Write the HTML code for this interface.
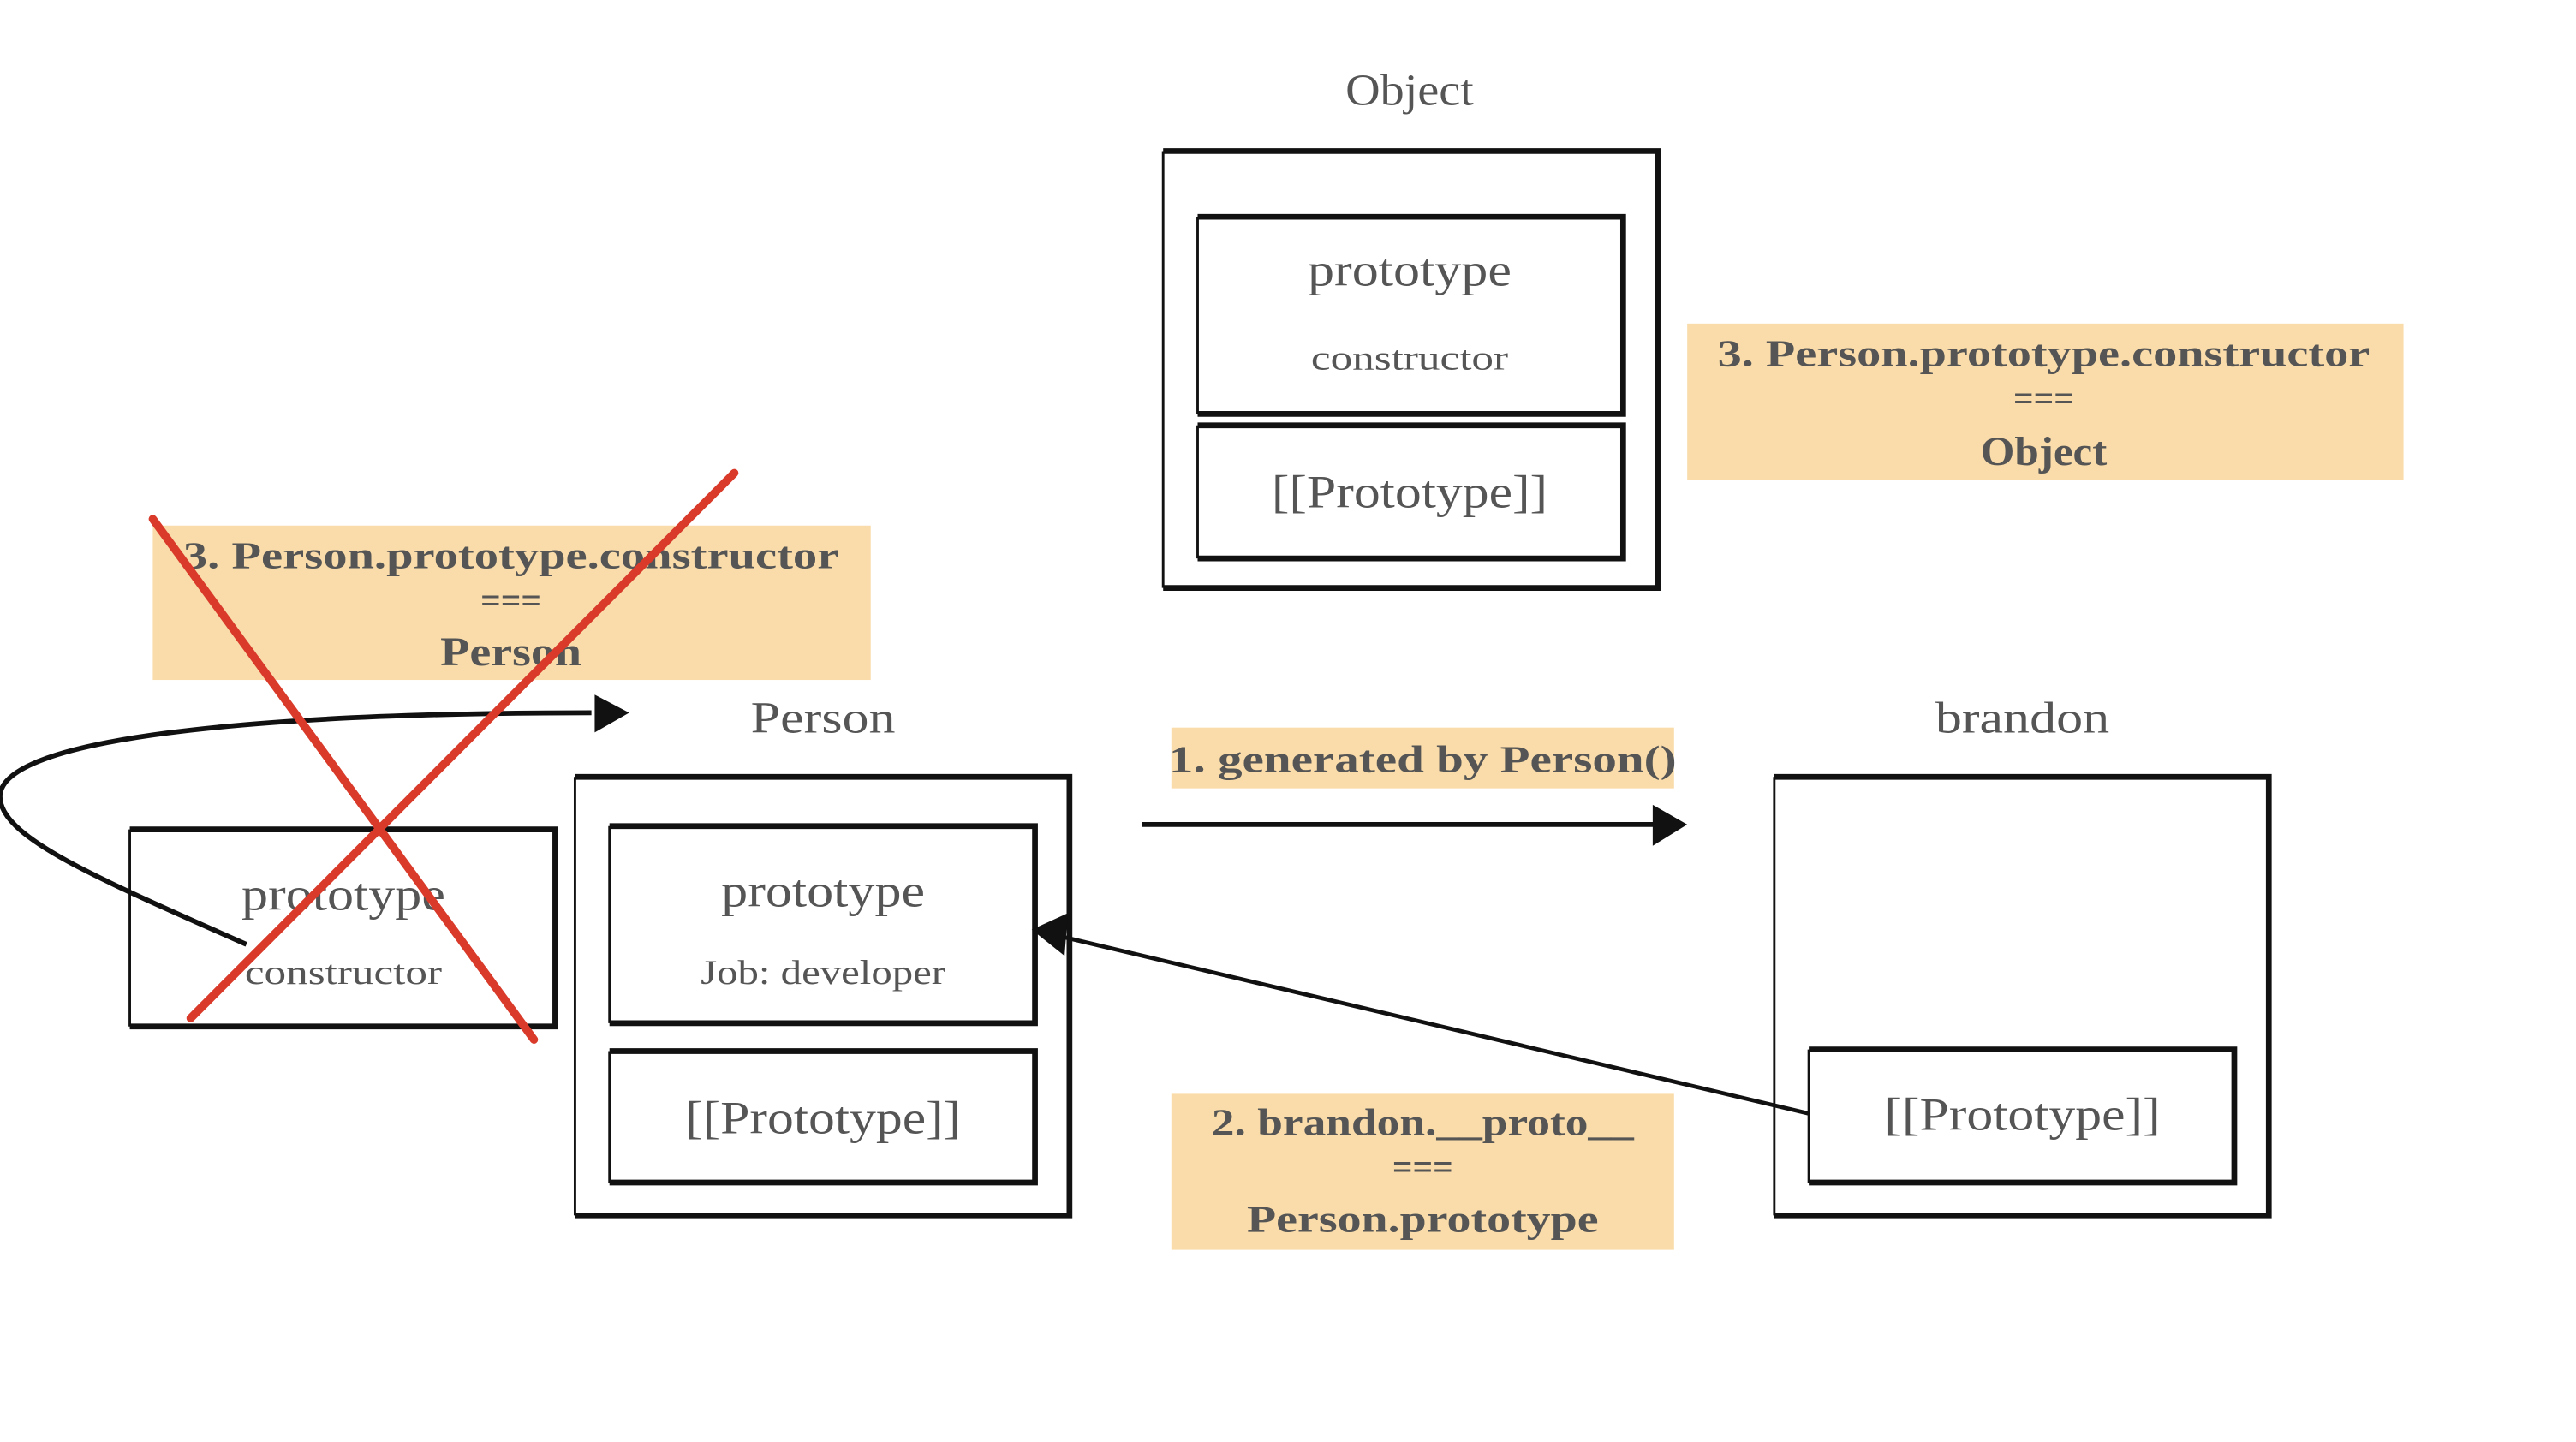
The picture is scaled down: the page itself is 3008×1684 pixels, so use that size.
<!DOCTYPE html>
<html><head><meta charset="utf-8"><style>
html,body{margin:0;padding:0;background:#fff;}
svg{display:block;}
text{font-family:"Liberation Serif",serif;fill:#555;text-anchor:middle;}
.b{font-weight:bold;}
</style></head><body>
<svg width="3008" height="1684" viewBox="0 0 1568 878" preserveAspectRatio="none" xmlns="http://www.w3.org/2000/svg">
<rect width="1568" height="878" fill="#fff"/>
<rect x="1027" y="197" width="436" height="95" fill="#f9dcaa"/>
<rect x="93" y="320" width="437" height="94" fill="#f9dcaa"/>
<rect x="713" y="443" width="306" height="37" fill="#f9dcaa"/>
<rect x="713" y="666" width="306" height="95" fill="#f9dcaa"/>

<g fill="none" stroke="#111" stroke-linejoin="miter">
<path d="M708 92V358" stroke-width="1.5"/><path d="M708 92H1009V358H708" stroke-width="3.5"/>
<path d="M729 132V252" stroke-width="1.5"/><path d="M729 132H988V252H729" stroke-width="3.5"/>
<path d="M729 259V340" stroke-width="1.5"/><path d="M729 259H988V340H729" stroke-width="3.5"/>
<path d="M350 473V740" stroke-width="1.5"/><path d="M350 473H651V740H350" stroke-width="3.5"/>
<path d="M371 503V623" stroke-width="1.5"/><path d="M371 503H630V623H371" stroke-width="3.5"/>
<path d="M371 640V720" stroke-width="1.5"/><path d="M371 640H630V720H371" stroke-width="3.5"/>
<path d="M79 505V625" stroke-width="1.5"/><path d="M79 505H338V625H79" stroke-width="3.5"/>
<path d="M1080 473V740" stroke-width="1.5"/><path d="M1080 473H1381V740H1080" stroke-width="3.5"/>
<path d="M1101 639V720" stroke-width="1.5"/><path d="M1101 639H1360V720H1101" stroke-width="3.5"/>
<path d="M695 502H1010" stroke-width="3"/>
<path d="M1101 678L645 570" stroke-width="2.5"/>
<path d="M150 575C60 535 0 510 0 485C0 450 150 434 360 434" stroke-width="3"/>
</g>
<g fill="#111">
<path d="M1006 490L1027 502L1006 515Z"/>
<path d="M628 566L650 556L648 582Z"/>
<path d="M362 423L383 434L362 446Z"/>
</g>

<text x="858" y="64" font-size="27" textLength="78" lengthAdjust="spacingAndGlyphs">Object</text>
<text x="858" y="174" font-size="28" textLength="124" lengthAdjust="spacingAndGlyphs">prototype</text>
<text x="858" y="225" font-size="21" textLength="120" lengthAdjust="spacingAndGlyphs">constructor</text>
<text x="858" y="309" font-size="28" textLength="168" lengthAdjust="spacingAndGlyphs">[[Prototype]]</text>
<text x="1244" y="223" font-size="23" class="b" textLength="397" lengthAdjust="spacingAndGlyphs">3. Person.prototype.constructor</text>
<text x="1244" y="250" font-size="22" class="b" textLength="37" lengthAdjust="spacingAndGlyphs">===</text>
<text x="1244" y="283" font-size="25" class="b" textLength="77" lengthAdjust="spacingAndGlyphs">Object</text>
<text x="311" y="346" font-size="23" class="b" textLength="399" lengthAdjust="spacingAndGlyphs">3. Person.prototype.constructor</text>
<text x="311" y="373" font-size="22" class="b" textLength="37" lengthAdjust="spacingAndGlyphs">===</text>
<text x="311" y="405" font-size="25" class="b" textLength="86" lengthAdjust="spacingAndGlyphs">Person</text>
<text x="501" y="446" font-size="27" textLength="88" lengthAdjust="spacingAndGlyphs">Person</text>
<text x="501" y="552" font-size="28" textLength="124" lengthAdjust="spacingAndGlyphs">prototype</text>
<text x="501" y="599" font-size="21" textLength="149" lengthAdjust="spacingAndGlyphs">Job: developer</text>
<text x="501" y="690" font-size="28" textLength="168" lengthAdjust="spacingAndGlyphs">[[Prototype]]</text>
<text x="209" y="554" font-size="28" textLength="124" lengthAdjust="spacingAndGlyphs">prototype</text>
<text x="209" y="599" font-size="21" textLength="120" lengthAdjust="spacingAndGlyphs">constructor</text>
<text x="1231" y="446" font-size="27" textLength="106" lengthAdjust="spacingAndGlyphs">brandon</text>
<text x="1231" y="688" font-size="28" textLength="168" lengthAdjust="spacingAndGlyphs">[[Prototype]]</text>
<text x="866" y="470" font-size="23" class="b" textLength="309" lengthAdjust="spacingAndGlyphs">1. generated by Person()</text>
<text x="866" y="691" font-size="23" class="b" textLength="257" lengthAdjust="spacingAndGlyphs">2. brandon.__proto__</text>
<text x="866" y="718" font-size="22" class="b" textLength="37" lengthAdjust="spacingAndGlyphs">===</text>
<text x="866" y="750" font-size="23" class="b" textLength="214" lengthAdjust="spacingAndGlyphs">Person.prototype</text>

<g stroke="#d93a2a" stroke-width="5" stroke-linecap="round">
<path d="M93 316L325 633"/>
<path d="M447 288L116 620"/>
</g>
</svg>
</body></html>
